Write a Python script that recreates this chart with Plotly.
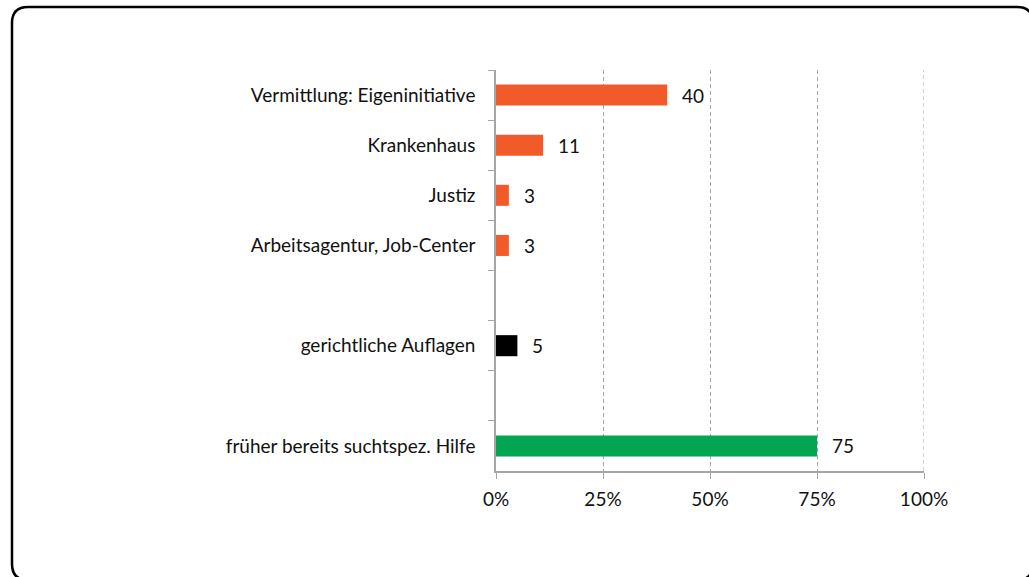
import plotly.graph_objects as go

categories = ["Vermittlung: Eigeninitiative", "Krankenhaus", "Justiz",
              "Arbeitsagentur, Job-Center", " ", "gerichtliche Auflagen", "  ",
              "früher bereits suchtspez. Hilfe"]
values = [40, 11, 3, 3, None, 5, None, 75]
colors = ["#F15A29", "#F15A29", "#F15A29", "#F15A29", "#FFFFFF", "#000000", "#FFFFFF", "#00A651"]
x_ticks = [0, 25, 50, 75, 100]
x_tick_labels = ["0%", "25%", "50%", "75%", "100%"]

W, H = 1029, 577
L, R, T, B = 496, 924, 70, 471

fig = go.Figure()
fig.add_trace(go.Bar(
    y=categories, x=values, orientation="h",
    marker=dict(color=colors, line=dict(width=0)),
    width=0.42, hoverinfo="skip",
))

font = dict(family="Lato, 'Open Sans', sans-serif", size=19, color="#111111")

for c, v in zip(categories, values):
    if v is not None:
        fig.add_annotation(x=v, y=c, text=str(v), showarrow=False,
                           xanchor="left", xshift=13, font=font)

# dashed gridline at the right edge (100%), which plotly omits at the boundary
fig.add_shape(type="line", xref="x", yref="paper", x0=x_ticks[-1], x1=x_ticks[-1],
              y0=0, y1=1, line=dict(color="#A6A6A6", width=1, dash="4px,3px"),
              layer="below")

def px(x):
    return (x - L) / (R - L)

def py(y):
    return (B - y) / (B - T)

# rounded border box (clipped on right/bottom like the reference)
x0, y0, x1, y1, r = 12, 7, 1033, 580, 16
path = (f"M {px(x0 + r)} {py(y0)} L {px(x1 - r)} {py(y0)} "
        f"Q {px(x1)} {py(y0)} {px(x1)} {py(y0 + r)} "
        f"L {px(x1)} {py(y1 - r)} Q {px(x1)} {py(y1)} {px(x1 - r)} {py(y1)} "
        f"L {px(x0 + r)} {py(y1)} Q {px(x0)} {py(y1)} {px(x0)} {py(y1 - r)} "
        f"L {px(x0)} {py(y0 + r)} Q {px(x0)} {py(y0)} {px(x0 + r)} {py(y0)} Z")
fig.add_shape(type="path", path=path, xref="paper", yref="paper",
              line=dict(color="#000000", width=2.5), layer="above")

fig.update_layout(
    width=W, height=H,
    margin=dict(l=L, r=W - R, t=T, b=H - B, pad=0),
    paper_bgcolor="white", plot_bgcolor="white",
    showlegend=False, font=font,
    bargap=0.58,
)
fig.update_xaxes(
    range=[0, 100], tickvals=x_ticks, ticktext=x_tick_labels,
    showgrid=True, gridcolor="#A6A6A6", griddash="4px,3px", gridwidth=1,
    zeroline=False, showline=True, linecolor="#A6A6A6", linewidth=1.5,
    ticks="outside", ticklen=6, tickcolor="#A6A6A6", tickfont=font,
    ticklabelstandoff=4, fixedrange=True,
)
fig.update_yaxes(
    categoryorder="array", categoryarray=categories, autorange="reversed",
    showgrid=False, zeroline=False, showline=True, linecolor="#A6A6A6", linewidth=1.5,
    ticks="outside", ticklen=6, tickcolor="#A6A6A6", tickson="boundaries",
    tickfont=font, ticklabelstandoff=15, fixedrange=True,
)

fig.write_html("out.html", config={"displayModeBar": False},
               post_script="document.body.style.margin='0';document.body.style.overflow='hidden';")
